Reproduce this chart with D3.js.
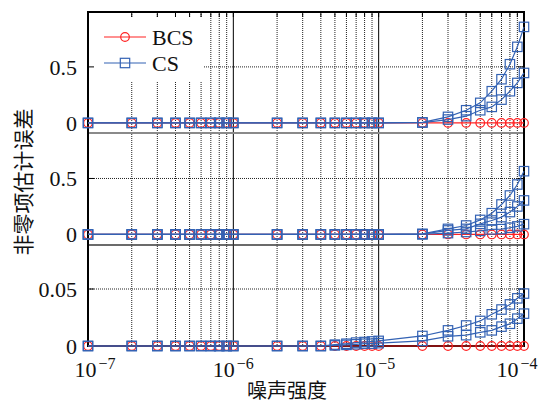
<!DOCTYPE html>
<html>
<head>
<meta charset="utf-8">
<script src="https://cdn.jsdelivr.net/npm/d3@7"></script>
<style>
  body { margin: 0; background: #fff; }
  text { font-family: "Liberation Serif", serif; fill: #111; }
  .cjk { font-family: "Noto Sans CJK SC", sans-serif; }
</style>
</head>
<body>
<div id="chart"></div>
<script>
// noise strength (x) for every point
const noise = [1e-7, 2e-7, 3e-7, 4e-7, 5e-7, 6e-7, 7e-7, 8e-7, 9e-7,
               1e-6, 2e-6, 3e-6, 4e-6, 5e-6, 6e-6, 7e-6, 8e-6, 9e-6,
               1e-5, 2e-5, 3e-5, 4e-5, 5e-5, 6e-5, 7e-5, 8e-5, 9e-5, 1e-4];

// top panel
const bcsTop = [0,0,0,0,0,0,0,0,0, 0,0,0,0,0,0,0,0,0, 0,0,0,0,0,0,0,0,0,0];
const csTopA = [0,0,0,0,0,0,0,0,0, 0,0,0,0,0,0,0,0,0, 0,0.005,0.054,0.113,0.179,0.283,0.39,0.524,0.679,0.857];
const csTopB = [0,0,0,0,0,0,0,0,0, 0,0,0,0,0,0,0,0,0, 0,0.003,0.03,0.06,0.113,0.143,0.208,0.283,0.357,0.446];

// middle panel
const bcsMid = [0,0,0,0,0,0,0,0,0, 0,0,0,0,0,0,0,0,0, 0,0,0,0,0,0,0,0,0,0];
const csMidA = [0,0,0,0,0,0,0,0,0, 0,0,0,0,0,0,0,0,0, 0,0.005,0.05,0.08,0.13,0.19,0.268,0.348,0.446,0.565];
const csMidB = [0,0,0,0,0,0,0,0,0, 0,0,0,0,0,0,0,0,0, 0,0.003,0.036,0.05,0.095,0.125,0.155,0.2,0.25,0.304];
const csMidC = [0,0,0,0,0,0,0,0,0, 0,0,0,0,0,0,0,0,0, 0,0.002,0.012,0.022,0.032,0.045,0.048,0.06,0.072,0.092];

// bottom panel
const bcsBot = [0,0,0,0,0,0,0,0,0, 0,0,0,0,0,0,0,0,0, 0,0,0,0,0,0,0,0,0,0];
const csBotA = [0,0,0,0,0,0,0,0,0, 0,0,0,0,0.0012,0.002,0.003,0.0035,0.004, 0.0045,0.0088,0.0137,0.018,0.022,0.0278,0.032,0.0365,0.0418,0.046];
const csBotB = [0,0,0,0,0,0,0,0,0, 0,0,0,0,0.0005,0.001,0.0015,0.002,0.002, 0.0025,0.0045,0.0085,0.0095,0.012,0.0137,0.017,0.0195,0.024,0.0284];

// tick labels
const decades = [1e-7, 1e-6, 1e-5, 1e-4];
const decadeExp = ["\u22127", "\u22126", "\u22125", "\u22124"];
const topTicks = [0, 0.5], topTickLabels = ["0", "0.5"];
const midTicks = [0, 0.5], midTickLabels = ["0", "0.5"];
const botTicks = [0, 0.05], botTickLabels = ["0", "0.05"];
const seriesNames = ["BCS", "CS"];

const width = 542, height = 405;
const plot = { left: 88, right: 524, top: 12, bottom: 346 };
const red = "#ff2222", blue = "#3362b4";

const svg = d3.select("#chart").append("svg")
    .attr("width", width)
    .attr("height", height);

const x = d3.scaleLog().domain([1e-7, 1e-4]).range([plot.left, plot.right]);

// each panel has its own y scale stacked in the same frame
const panels = [
    { y: d3.scaleLinear().domain([-0.09, 0.99]).range([133, plot.top]),
      ticks: topTicks, labels: topTickLabels, bcs: [bcsTop], cs: [csTopA, csTopB] },
    { y: d3.scaleLinear().domain([-0.094, 0.906]).range([245, 133]),
      ticks: midTicks, labels: midTickLabels, bcs: [bcsMid], cs: [csMidA, csMidB, csMidC] },
    { y: d3.scaleLinear().domain([0, 0.0886]).range([plot.bottom, 245]),
      ticks: botTicks, labels: botTickLabels, bcs: [bcsBot], cs: [csBotA, csBotB] }
];

// vertical grid: minor dotted, decades solid
const minorVals = [];
decades.slice(0, 3).forEach(d => { for (let k = 2; k <= 9; k++) minorVals.push(d * k); });

const grid = svg.append("g");
grid.selectAll(".vminor")
    .data(minorVals)
    .join("line")
    .attr("x1", d => x(d)).attr("x2", d => x(d))
    .attr("y1", plot.top).attr("y2", plot.bottom)
    .attr("stroke", "#222").attr("stroke-width", 1)
    .attr("stroke-dasharray", "1,1");

grid.selectAll(".vmajor")
    .data(decades.slice(1, 3))
    .join("line")
    .attr("x1", d => x(d)).attr("x2", d => x(d))
    .attr("y1", plot.top).attr("y2", plot.bottom)
    .attr("stroke", "#000").attr("stroke-width", 1);

// horizontal grid at the non-zero tick of each panel
panels.forEach(p => {
    grid.append("line")
        .attr("x1", plot.left).attr("x2", plot.right)
        .attr("y1", p.y(p.ticks[1])).attr("y2", p.y(p.ticks[1]))
        .attr("stroke", "#222").attr("stroke-width", 1)
        .attr("stroke-dasharray", "1,1");
});

// panel separators
svg.append("line")
    .attr("x1", plot.left).attr("x2", plot.right)
    .attr("y1", 133).attr("y2", 133)
    .attr("stroke", "#8a8a8a").attr("stroke-width", 2);
svg.append("line")
    .attr("x1", plot.left).attr("x2", plot.right)
    .attr("y1", 245).attr("y2", 245)
    .attr("stroke", "#3a3a3a").attr("stroke-width", 1.5);

// legend background hides the grid behind it
svg.append("rect")
    .attr("x", 90).attr("y", 17)
    .attr("width", 114).attr("height", 64)
    .attr("fill", "#fff");

// frame
svg.append("rect")
    .attr("x", plot.left).attr("y", plot.top)
    .attr("width", plot.right - plot.left)
    .attr("height", plot.bottom - plot.top)
    .attr("fill", "none")
    .attr("stroke", "#000").attr("stroke-width", 2);

// ticks on top edge and y ticks on both sides
svg.append("g").selectAll("line")
    .data(minorVals.concat(decades.slice(1, 3)))
    .join("line")
    .attr("x1", d => x(d)).attr("x2", d => x(d))
    .attr("y1", plot.top).attr("y2", plot.top + 5)
    .attr("stroke", "#000");

panels.forEach(p => {
    const ty = p.y(p.ticks[1]);
    svg.append("line")
        .attr("x1", plot.left).attr("x2", plot.left + 6)
        .attr("y1", ty).attr("y2", ty).attr("stroke", "#000");
    svg.append("line")
        .attr("x1", plot.right - 6).attr("x2", plot.right)
        .attr("y1", ty).attr("y2", ty).attr("stroke", "#000");

    svg.append("g").selectAll("text")
        .data(p.ticks)
        .join("text")
        .attr("x", 77)
        .attr("y", d => p.y(d))
        .attr("dy", "0.35em")
        .attr("text-anchor", "end")
        .attr("font-size", 22)
        .text((d, i) => p.labels[i]);
});

// x tick labels 10^k
const labelShift = [7, 0, -4, -7];
decades.forEach((d, i) => {
    const t = svg.append("text")
        .attr("x", x(d) + labelShift[i])
        .attr("y", 377)
        .attr("text-anchor", "middle")
        .attr("font-size", 22);
    t.append("tspan").text("10");
    t.append("tspan").attr("dx", 2).attr("dy", -8).attr("font-size", 16).text(decadeExp[i]);
});

// data
const line = (p) => d3.line().x((d, i) => x(noise[i])).y(d => p.y(d));

panels.forEach(p => {
    p.bcs.forEach(vals => {
        svg.append("path")
            .attr("d", line(p)(vals))
            .attr("fill", "none").attr("stroke", red).attr("stroke-width", 1.2);
        svg.append("g").selectAll("circle")
            .data(vals)
            .join("circle")
            .attr("cx", (d, i) => x(noise[i]))
            .attr("cy", d => p.y(d))
            .attr("r", 4.3)
            .attr("fill", "none").attr("stroke", red).attr("stroke-width", 1.2);
    });
    p.cs.forEach(vals => {
        svg.append("path")
            .attr("d", line(p)(vals))
            .attr("fill", "none").attr("stroke", blue).attr("stroke-width", 1.2);
        svg.append("g").selectAll("rect")
            .data(vals)
            .join("rect")
            .attr("x", (d, i) => x(noise[i]) - 4.7)
            .attr("y", d => p.y(d) - 4.7)
            .attr("width", 9.4).attr("height", 9.4)
            .attr("fill", "none").attr("stroke", blue).attr("stroke-width", 1.2);
    });
});

// legend
const legend = svg.append("g").attr("transform", "translate(104, 37)");
seriesNames.forEach((name, i) => {
    const g = legend.append("g").attr("transform", `translate(0, ${i * 26})`);
    const col = i === 0 ? red : blue;
    g.append("line")
        .attr("x1", 0).attr("x2", 42)
        .attr("stroke", col).attr("stroke-width", 1.2);
    if (i === 0) {
        g.append("circle").attr("cx", 21).attr("r", 4.3)
            .attr("fill", "none").attr("stroke", col).attr("stroke-width", 1.2);
    } else {
        g.append("rect").attr("x", 16.3).attr("y", -4.7)
            .attr("width", 9.4).attr("height", 9.4)
            .attr("fill", "none").attr("stroke", col).attr("stroke-width", 1.2);
    }
    g.append("text")
        .attr("x", 48).attr("dy", "0.35em")
        .attr("font-size", 22)
        .text(name);
});

// axis titles
svg.append("text")
    .attr("class", "cjk")
    .attr("x", 287).attr("y", 398)
    .attr("text-anchor", "middle")
    .attr("font-size", 20)
    .text("噪声强度");

svg.append("text")
    .attr("class", "cjk")
    .attr("transform", "rotate(-90)")
    .attr("x", -182).attr("y", 31)
    .attr("text-anchor", "middle")
    .attr("font-size", 21)
    .text("非零项估计误差");
</script>
</body>
</html>
